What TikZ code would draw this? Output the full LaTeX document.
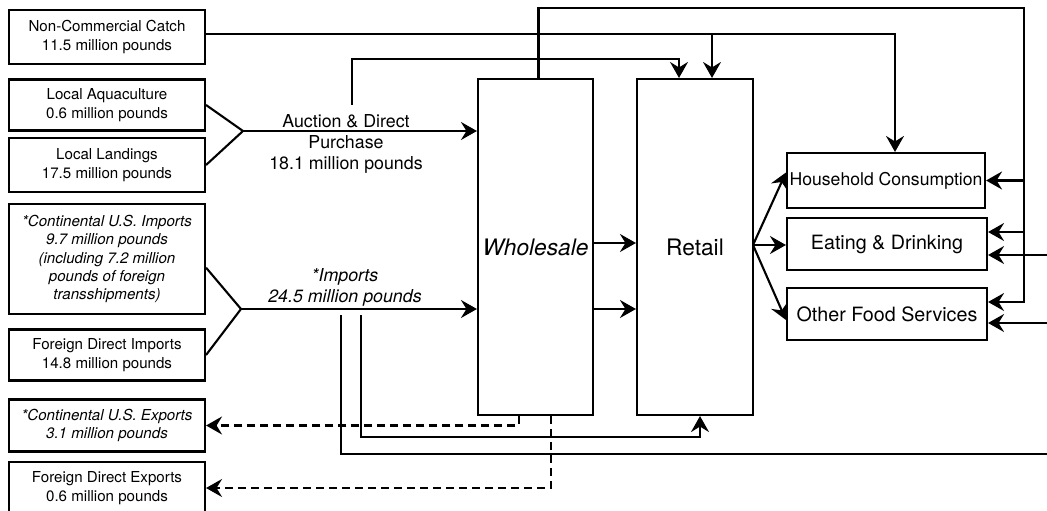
\documentclass[tikz,border=0pt]{standalone}
\usepackage{fontspec}
\setmainfont{TeX Gyre Heros}
\usetikzlibrary{arrows.meta}
\tikzstyle{srcbox}=[draw, minimum width=196pt, inner sep=0pt, align=center, font=\fontsize{15.1}{18.3}\selectfont]
\tikzstyle{stagebox}=[draw, minimum width=115pt, minimum height=336pt, inner sep=0pt, font=\fontsize{22.7}{27}\selectfont]
\tikzstyle{usebox}=[draw, minimum width=200pt, minimum height=52pt, inner sep=0pt, font=\fontsize{19.7}{23}\selectfont]
\tikzstyle{flowlbl}=[align=center, inner sep=0pt, font=\fontsize{17.8}{21}\selectfont]
\tikzstyle{arr}=[-{Stealth[length=16pt,width=18pt,inset=5.5pt]}]

\begin{document}
\begin{tikzpicture}[x=1pt, y=-1pt, line width=2.1pt]
				\useasboundingbox (0,0) rectangle (1047,511);
				% sources
				\node[srcbox, minimum height=54pt] (nc) at (107,37) {Non-Commercial Catch\\11.5 million pounds};
				\node[srcbox, minimum height=51pt] (aqua) at (107,105) {Local Aquaculture\\0.6 million pounds};
				\node[srcbox, minimum height=54pt] (land) at (107,165) {Local Landings\\17.5 million pounds};
				\node[srcbox, minimum height=110pt, font=\fontsize{15.1}{18.3}\selectfont\itshape] (ciu) at (107,259) {*Continental U.S. Imports\\9.7 million pounds\\(including 7.2 million\\pounds of foreign\\transshipments)};
				\node[srcbox, minimum height=51pt] (fdi) at (107,355) {Foreign Direct Imports\\14.8 million pounds};
				\node[srcbox, minimum height=52pt, font=\fontsize{15.1}{18.3}\selectfont\itshape] (cue) at (107,425.5) {*Continental U.S. Exports\\3.1 million pounds};
				\node[srcbox, minimum height=52pt] (fde) at (107,488) {Foreign Direct Exports\\0.6 million pounds};
				% stages
				\node[stagebox, font=\fontsize{22.7}{27}\selectfont\itshape] (whole) at (535.5,247) {Wholesale};
				\node[stagebox, minimum width=116pt] (retail) at (695,247) {Retail};
				% uses
				\node[usebox, minimum width=198pt, minimum height=55pt, font=\fontsize{17.6}{21}\selectfont] (hh) at (886,180.5) {Household Consumption};
				\node[usebox] (eat) at (887,244) {Eating \& Drinking};
				\node[usebox] (oth) at (887,314) {Other Food Services};
				% flow labels
				\node[flowlbl] (auclbl) at (346,144) {Auction \& Direct\\Purchase\\18.1 million pounds};
				\node[flowlbl, font=\fontsize{17.8}{21}\selectfont\itshape] (implbl) at (345,287) {*Imports\\24.5 million pounds};
				% joints and loose ends
				\coordinate (j1) at (243,131);
				\coordinate (j2) at (241,309);
				\coordinate (auc) at (352,105);
				\coordinate (imp1) at (361,315);
				\coordinate (imp2) at (341,315);
				\coordinate (rtop) at (1024,8);
				\coordinate (ncr) at (712,34);
				\coordinate (rs) at (753,245);
				\coordinate (edge1) at (1047,454);
				\coordinate (edge2) at (1047,255);
				\coordinate (edge3) at (1047,323);
				% into wholesale
				\draw (aqua.east) -- (j1) -- (land.east);
				\draw[arr] (j1) -- (j1 -| whole.west);
				\draw (ciu.-5) -- (j2) -- (fdi.east);
				\draw[arr] (j2) -- (j2 -| whole.west);
				% wholesale to retail
				\draw[arr] ([yshift=4pt]whole.east) -- ([yshift=4pt]retail.west);
				\draw[arr] ([yshift=-62pt]whole.east) -- ([yshift=-62pt]retail.west);
				% retail to uses
				\draw[arr] (rs) -- ([yshift=8pt]hh.west);
				\draw[arr] (rs) -- (rs -| eat.west);
				\draw[arr] (rs) -- ([yshift=-6pt]oth.west);
				% top lines
				\draw[arr] ([yshift=3pt]nc.east) -| ([xshift=9pt]hh.north);
				\draw[arr] (ncr) -- (ncr |- retail.north);
				\draw[arr] (auc) |- (679,59) -- ([xshift=-16pt]retail.north);
				\draw[arr] ([xshift=3pt]whole.north) |- (rtop) |- ([yshift=12pt]oth.east);
				\draw[arr] (rtop |- hh.east) -- (hh.east);
				\draw[arr] (rtop |- eat.east) ++(0,-12) -- ([yshift=12pt]eat.east);
				\draw[arr] (edge2) -- (edge2 -| eat.east);
				\draw[arr] (edge3) -- (edge3 -| oth.east);
				% bottom lines
				\draw[arr] (imp1) |- (700,437) -- ([xshift=5pt]retail.south);
				\draw (imp2) |- (edge1);
				\draw[arr, dash pattern=on 8pt off 5pt] ([xshift=-16.5pt]whole.south) |- (cue.east);
				\draw[arr, dash pattern=on 8pt off 5pt] ([xshift=15.5pt]whole.south) |- (fde.east);
			\end{tikzpicture}
\end{document}
